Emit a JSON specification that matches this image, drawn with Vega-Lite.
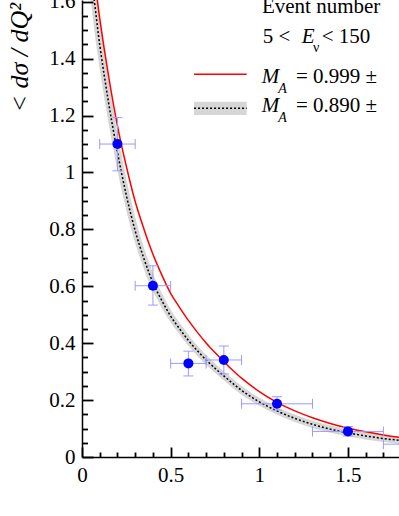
{
  "$schema": "https://vega.github.io/schema/vega-lite/v6.json",
  "width": 317,
  "height": 457,
  "autosize": {"type": "none"},
  "padding": {"left": 82, "top": 0, "right": 0, "bottom": 59},
  "background": "white",
  "config": {"view": {"stroke": null}, "font": "Liberation Serif"},
  "datasets": {
    "red": [
      {"x": 0.04, "y": 1.81}, {"x": 0.05, "y": 1.778}, {"x": 0.1, "y": 1.541}, {"x": 0.15, "y": 1.339},
      {"x": 0.2, "y": 1.164}, {"x": 0.25, "y": 1.022}, {"x": 0.3, "y": 0.898}, {"x": 0.35, "y": 0.8},
      {"x": 0.4, "y": 0.713}, {"x": 0.45, "y": 0.64}, {"x": 0.5, "y": 0.575}, {"x": 0.55, "y": 0.526},
      {"x": 0.6, "y": 0.48}, {"x": 0.65, "y": 0.439}, {"x": 0.7, "y": 0.401}, {"x": 0.75, "y": 0.367},
      {"x": 0.8, "y": 0.335}, {"x": 0.85, "y": 0.305}, {"x": 0.9, "y": 0.277}, {"x": 0.95, "y": 0.2525},
      {"x": 1.0, "y": 0.23}, {"x": 1.1, "y": 0.192}, {"x": 1.2, "y": 0.162}, {"x": 1.3, "y": 0.138},
      {"x": 1.4, "y": 0.118}, {"x": 1.5, "y": 0.102}, {"x": 1.6, "y": 0.0886}, {"x": 1.7, "y": 0.0774},
      {"x": 1.8, "y": 0.068}, {"x": 1.9, "y": 0.06}
    ],
    "black": [
      {"x": 0.04, "y": 1.72}, {"x": 0.05, "y": 1.689}, {"x": 0.1, "y": 1.449}, {"x": 0.15, "y": 1.245},
      {"x": 0.2, "y": 1.071}, {"x": 0.25, "y": 0.92}, {"x": 0.3, "y": 0.795}, {"x": 0.35, "y": 0.696},
      {"x": 0.4, "y": 0.613}, {"x": 0.45, "y": 0.55}, {"x": 0.5, "y": 0.495}, {"x": 0.55, "y": 0.451},
      {"x": 0.6, "y": 0.41}, {"x": 0.65, "y": 0.374}, {"x": 0.7, "y": 0.341}, {"x": 0.75, "y": 0.312},
      {"x": 0.8, "y": 0.285}, {"x": 0.85, "y": 0.259}, {"x": 0.9, "y": 0.234}, {"x": 0.95, "y": 0.213},
      {"x": 1.0, "y": 0.194}, {"x": 1.1, "y": 0.162}, {"x": 1.2, "y": 0.136}, {"x": 1.3, "y": 0.115},
      {"x": 1.4, "y": 0.098}, {"x": 1.5, "y": 0.0847}, {"x": 1.6, "y": 0.074}, {"x": 1.7, "y": 0.065},
      {"x": 1.8, "y": 0.0578}, {"x": 1.9, "y": 0.051}
    ],
    "points": [
      {"x": 0.2, "xlo": 0.1, "xhi": 0.3, "y": 1.1, "ylo": 1.006, "yhi": 1.193},
      {"x": 0.4, "xlo": 0.3, "xhi": 0.5, "y": 0.602, "ylo": 0.534, "yhi": 0.672},
      {"x": 0.6, "xlo": 0.5, "xhi": 0.7, "y": 0.329, "ylo": 0.285, "yhi": 0.372},
      {"x": 0.8, "xlo": 0.7, "xhi": 0.9, "y": 0.341, "ylo": 0.292, "yhi": 0.39},
      {"x": 1.1, "xlo": 0.9, "xhi": 1.3, "y": 0.187, "ylo": 0.165, "yhi": 0.212},
      {"x": 1.5, "xlo": 1.3, "xhi": 1.7, "y": 0.09, "ylo": 0.074, "yhi": 0.107},
      {"x": 1.9, "xlo": 1.7, "xhi": 2.1, "y": 0.045, "ylo": 0.032, "yhi": 0.058}
    ],
    "legRed": [{"x": 0.632, "x2": 0.929, "y": 1.3455}],
    "legBand": [{"x": 0.632, "x2": 0.929, "y": 1.249, "y2": 1.202}],
    "legBlack": [{"x": 0.632, "x2": 0.929, "y": 1.226}],
    "txtRegular": [
      {"x": 1.015, "y": 1.56, "text": "Event number"},
      {"x": 1.019, "y": 1.454, "text": "5 <"},
      {"x": 1.352, "y": 1.454, "text": "< 150"},
      {"x": 1.207, "y": 1.315, "text": "= 0.999 ±"},
      {"x": 1.207, "y": 1.214, "text": "= 0.890 ±"}
    ],
    "txtItalic": [
      {"x": 1.239, "y": 1.454, "text": "E"},
      {"x": 1.014, "y": 1.315, "text": "M"},
      {"x": 1.014, "y": 1.214, "text": "M"}
    ],
    "txtSubItalic": [
      {"x": 1.107, "y": 1.279, "text": "A"},
      {"x": 1.107, "y": 1.179, "text": "A"}
    ],
    "txtSub": [{"x": 1.303, "y": 1.424, "text": "ν"}]
  },
  "encoding": {
    "x": {"field": "x", "type": "quantitative", "scale": {"domain": [0, 1.788], "nice": false, "zero": false}, "axis": null},
    "y": {"field": "y", "type": "quantitative", "scale": {"domain": [0, 1.6063], "nice": false}, "axis": null}
  },
  "resolve": {"axis": {"x": "independent", "y": "independent"}},
  "layer": [
    {"data": {"name": "black"}, "mark": {"type": "line", "stroke": "#d6d6d6", "strokeWidth": 7, "interpolate": "monotone", "clip": true},
     "encoding": {
       "x": {"field": "x", "type": "quantitative", "scale": {"domain": [0, 1.788], "nice": false, "zero": false},
         "axis": {"orient": "top", "offset": -457, "title": null, "values": [0.1, 0.2, 0.3, 0.4, 0.6, 0.7, 0.8, 0.9, 1.1, 1.2, 1.3, 1.4, 1.6, 1.7],
           "labels": false, "domain": false, "grid": false, "ticks": true, "tickSize": 5, "tickColor": "#000000", "tickWidth": 1.8, "zindex": 2}},
       "y": {"field": "y", "type": "quantitative", "scale": {"domain": [0, 1.6063], "nice": false},
         "axis": {"orient": "right", "offset": -317, "title": null, "values": [0.05, 0.1, 0.15, 0.25, 0.3, 0.35, 0.45, 0.5, 0.55, 0.65, 0.7, 0.75, 0.85, 0.9, 0.95, 1.05, 1.1, 1.15, 1.25, 1.3, 1.35, 1.45, 1.5, 1.55],
           "labels": false, "domain": false, "grid": false, "ticks": true, "tickSize": 5.5, "tickColor": "#000000", "tickWidth": 1.8, "zindex": 2}}
     }},
    {"data": {"name": "red"}, "mark": {"type": "line", "stroke": "#ff0000", "strokeWidth": 1.5, "interpolate": "monotone", "clip": true},
     "encoding": {
       "x": {"field": "x", "type": "quantitative", "scale": {"domain": [0, 1.788], "nice": false, "zero": false},
         "axis": {"orient": "top", "offset": -457, "title": null, "values": [0, 0.5, 1, 1.5],
           "labels": false, "domain": false, "grid": false, "ticks": true, "tickSize": 10, "tickColor": "#000000", "tickWidth": 1.8, "zindex": 2}},
       "y": {"field": "y", "type": "quantitative", "scale": {"domain": [0, 1.6063], "nice": false},
         "axis": {"orient": "right", "offset": -317, "title": null, "values": [0, 0.2, 0.4, 0.6, 0.8, 1, 1.2, 1.4, 1.6],
           "labels": false, "domain": false, "grid": false, "ticks": true, "tickSize": 11, "tickColor": "#000000", "tickWidth": 1.8, "zindex": 2}}
     }},
    {"data": {"name": "black"}, "mark": {"type": "line", "stroke": "black", "strokeWidth": 1.5, "strokeDash": [2, 2], "interpolate": "monotone", "clip": true},
     "encoding": {
       "x": {"field": "x", "type": "quantitative", "scale": {"domain": [0, 1.788], "nice": false, "zero": false},
         "axis": {"orient": "bottom", "title": null, "values": [0, 0.5, 1, 1.5], "format": "~g", "ticks": false,
           "grid": false, "labelFont": "Liberation Serif", "labelFontSize": 21, "labelColor": "black",
           "labelPadding": 7.5, "labelBaseline": "top", "labelFlush": false, "labelOverlap": false,
           "domainColor": "black", "domainWidth": 1.5}},
       "y": {"field": "y", "type": "quantitative", "scale": {"domain": [0, 1.6063], "nice": false},
         "axis": {"orient": "left", "title": "< dσ / dQ²",
           "titleFont": "Liberation Serif", "titleFontSize": 26, "titleFontStyle": "italic", "titleFontWeight": "normal",
           "titleColor": "black", "titleAngle": -90, "titleAlign": "left", "titleBaseline": "alphabetic",
           "titleX": -55, "titleY": 112,
           "values": [0, 0.2, 0.4, 0.6, 0.8, 1, 1.2, 1.4, 1.6], "format": "~g", "ticks": false,
           "grid": false, "labelFont": "Liberation Serif", "labelFontSize": 21, "labelColor": "black",
           "labelPadding": 7, "labelFlush": false, "labelOverlap": false,
           "domainColor": "black", "domainWidth": 1.5}}
     }},
    {"data": {"name": "points"}, "mark": {"type": "rule", "stroke": "#9b9bff", "strokeWidth": 1, "clip": true},
     "encoding": {"x": {"field": "xlo", "type": "quantitative", "scale": {"domain": [0, 1.788], "nice": false, "zero": false}, "axis": null}, "x2": {"field": "xhi"}}},
    {"data": {"name": "points"}, "mark": {"type": "rule", "stroke": "#9b9bff", "strokeWidth": 1, "clip": true},
     "encoding": {"y": {"field": "ylo", "type": "quantitative", "scale": {"domain": [0, 1.6063], "nice": false}, "axis": null}, "y2": {"field": "yhi"}}},
    {"data": {"name": "points"}, "mark": {"type": "tick", "orient": "vertical", "size": 10, "thickness": 1, "color": "#9b9bff", "opacity": 1, "clip": true},
     "encoding": {"x": {"field": "xlo", "type": "quantitative", "scale": {"domain": [0, 1.788], "nice": false, "zero": false}, "axis": null}}},
    {"data": {"name": "points"}, "mark": {"type": "tick", "orient": "vertical", "size": 10, "thickness": 1, "color": "#9b9bff", "opacity": 1, "clip": true},
     "encoding": {"x": {"field": "xhi", "type": "quantitative", "scale": {"domain": [0, 1.788], "nice": false, "zero": false}, "axis": null}}},
    {"data": {"name": "points"}, "mark": {"type": "tick", "orient": "horizontal", "size": 10, "thickness": 1, "color": "#9b9bff", "opacity": 1, "clip": true},
     "encoding": {"y": {"field": "ylo", "type": "quantitative", "scale": {"domain": [0, 1.6063], "nice": false}, "axis": null}}},
    {"data": {"name": "points"}, "mark": {"type": "tick", "orient": "horizontal", "size": 10, "thickness": 1, "color": "#9b9bff", "opacity": 1, "clip": true},
     "encoding": {"y": {"field": "yhi", "type": "quantitative", "scale": {"domain": [0, 1.6063], "nice": false}, "axis": null}}},
    {"data": {"name": "points"}, "mark": {"type": "point", "shape": "circle", "filled": true, "color": "#0000ff", "size": 100, "opacity": 1, "clip": true}},
    {"data": {"name": "legBand"}, "mark": {"type": "rect", "color": "#d6d6d6"},
     "encoding": {"x2": {"field": "x2"}, "y2": {"field": "y2"}}},
    {"data": {"name": "legRed"}, "mark": {"type": "rule", "stroke": "#ff0000", "strokeWidth": 1.5},
     "encoding": {"x2": {"field": "x2"}}},
    {"data": {"name": "legBlack"}, "mark": {"type": "rule", "stroke": "black", "strokeWidth": 1.5, "strokeDash": [2, 2]},
     "encoding": {"x2": {"field": "x2"}}},
    {"data": {"name": "txtRegular"}, "mark": {"type": "text", "align": "left", "baseline": "alphabetic", "font": "Liberation Serif", "fontSize": 21, "color": "black"},
     "encoding": {"text": {"field": "text"}}},
    {"data": {"name": "txtItalic"}, "mark": {"type": "text", "align": "left", "baseline": "alphabetic", "font": "Liberation Serif", "fontSize": 21, "fontStyle": "italic", "color": "black"},
     "encoding": {"text": {"field": "text"}}},
    {"data": {"name": "txtSubItalic"}, "mark": {"type": "text", "align": "left", "baseline": "alphabetic", "font": "Liberation Serif", "fontSize": 14, "fontStyle": "italic", "color": "black"},
     "encoding": {"text": {"field": "text"}}},
    {"data": {"name": "txtSub"}, "mark": {"type": "text", "align": "left", "baseline": "alphabetic", "font": "Liberation Serif", "fontSize": 14, "color": "black"},
     "encoding": {"text": {"field": "text"}}}
  ]
}
